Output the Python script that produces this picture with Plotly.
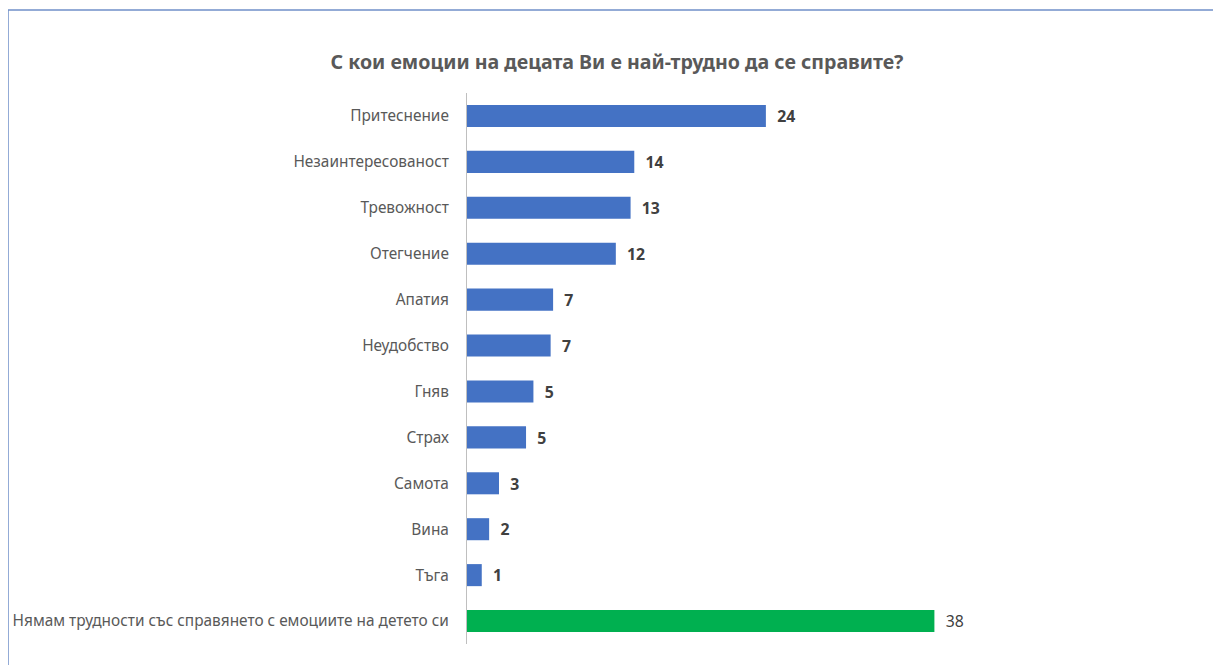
import plotly.graph_objects as go

categories = ["Притеснение", "Незаинтересованост", "Тревожност", "Отегчение", "Апатия",
              "Неудобство", "Гняв", "Страх", "Самота", "Вина", "Тъга",
              "Нямам трудности със справянето с емоциите на детето си"]
values = [24.3, 13.6, 13.3, 12.1, 7.0, 6.8, 5.4, 4.8, 2.6, 1.8, 1.2, 38.0]
colors = ["#4472C4"] * 11 + ["#00B050"]
labels = [f"\u00a0\u00a0<b>{v:.0f}</b>" for v in values[:-1]] + [f"\u00a0\u00a0{values[-1]:.0f}"]

W, H = 1221, 665
OFF = 8  # page offset of the figure (body margin)
L, R, T = 467 - OFF, 60, 93 - OFF
plot_bottom = 644 - OFF
B = H - plot_bottom
pw, ph = W - L - R, H - T - B
px_per_unit = 12.3

fig = go.Figure(go.Bar(
    x=values, y=categories, orientation="h",
    marker=dict(color=colors, line=dict(width=0)),
    width=0.48,
    text=labels, textposition="outside", cliponaxis=False,
    textfont=dict(size=16.5, color="#404040", family="Noto Sans"),
))

def xp(px):
    return (px - OFF - L) / pw

def yp(py):
    return (H - B - (py - OFF)) / ph

fig.update_layout(
    width=W, height=H,
    margin=dict(l=L, r=R, t=T, b=B, autoexpand=False),
    paper_bgcolor="white", plot_bgcolor="white",
    showlegend=False,
    title=dict(text="<b>С кои емоции на децата Ви е най-трудно да се справите?</b>",
               x=(617 - OFF) / W, xref="container", xanchor="center",
               y=1 - (62 - OFF) / H, yref="container", yanchor="middle",
               font=dict(size=19.6, color="#595959", family="Noto Sans")),
    xaxis=dict(range=[0, pw / px_per_unit], visible=False, fixedrange=True),
    yaxis=dict(autorange="reversed", showline=True, linecolor="#BFBFBF", linewidth=1,
               ticks="", ticklabelstandoff=14, automargin=False,
               tickfont=dict(size=15.4, color="#595959", family="Noto Sans")),
    shapes=[
        dict(type="line", xref="paper", yref="paper", x0=xp(8), x1=xp(1240), y0=yp(10), y1=yp(10),
             line=dict(color="#6F8FC8", width=1.5)),
        dict(type="line", xref="paper", yref="paper", x0=xp(8), x1=xp(8), y0=yp(10), y1=yp(690),
             line=dict(color="#6F8FC8", width=1.5)),
    ],
)

fig.write_html("out.html")
